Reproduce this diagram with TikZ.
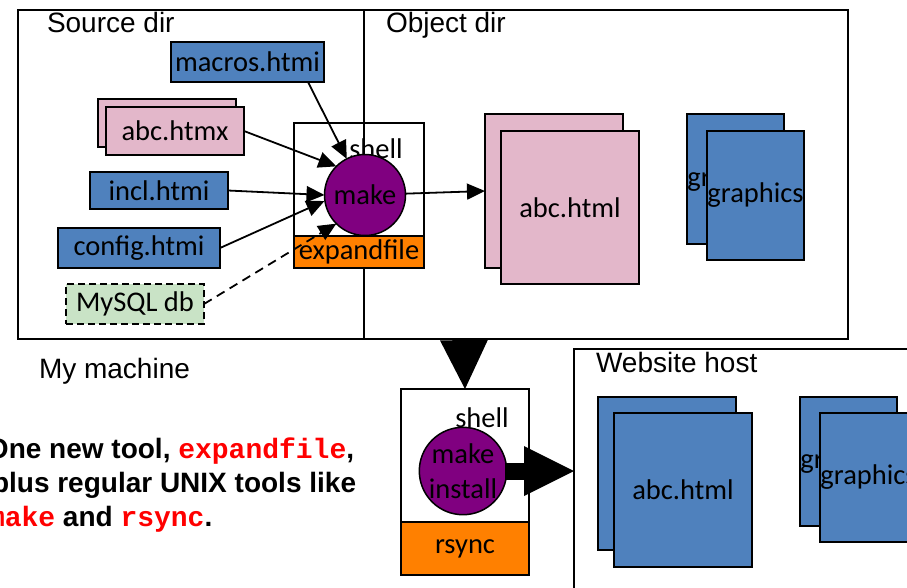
\documentclass[tikz,border=0pt]{standalone}
\usepackage{fontspec}
\setmainfont{Carlito}
\newfontfamily\arialf{Liberation Sans}
\newfontfamily\courf{Liberation Mono}
\usetikzlibrary{arrows.meta}
\definecolor{boxblue}{HTML}{4F81BD}
\definecolor{boxpink}{HTML}{E3B7CA}
\definecolor{boxorange}{HTML}{FF8000}
\definecolor{boxpurple}{HTML}{800080}
\definecolor{boxgreen}{HTML}{C9E3C6}
\begin{document}
\begin{tikzpicture}[x=1pt,y=-1pt,
  every node/.style={font=\fontsize{28.5}{34}\selectfont, inner sep=0pt, outer sep=0pt},
  bluebox/.style={draw=black, line width=2pt, fill=boxblue},
  pinkbox/.style={draw=black, line width=2pt, fill=boxpink},
  shellbox/.style={draw=black, line width=1.5pt},
  orangebox/.style={draw=black, line width=1.5pt, fill=boxorange},
  tool/.style={circle, draw=black, line width=1.5pt, fill=boxpurple},
  lbl/.style={anchor=base west, font=\arialf\fontsize{28}{34}\selectfont},
  notetext/.style={anchor=base west, font=\arialf\bfseries\fontsize{28}{34}\selectfont},
  arr/.style={line width=1.8pt, -{Triangle[length=18pt,width=16pt]}},
]
\useasboundingbox (0,0) rectangle (907,587);

% frames
\node[draw=black, line width=2pt, minimum width=830pt, minimum height=329pt] (mymachine) at (433,174.5) {};
\coordinate (divtop) at (364,10);
\coordinate (divbot) at (364,339);
\draw[line width=2pt] (divtop) -- (divbot);
\node[draw=black, line width=1.5pt, minimum width=356pt, minimum height=261pt] (webhost) at (752,479.5) {};

% labels
\node[lbl] (srclbl) at (47,32) {Source dir};
\node[lbl] (objlbl) at (386,32) {Object dir};
\node[lbl] (mmlbl) at (39,378) {My machine};
\node[lbl] (weblbl) at (596,372) {Website host};

% source files
\node[bluebox, minimum width=153pt, minimum height=40pt] (macros) at (247.5,62) {macros.htmi};
\node[pinkbox, minimum width=138pt, minimum height=48pt] (abcxb) at (167,123) {};
\node[pinkbox, minimum width=138pt, minimum height=48pt] (abcx) at (175,131) {abc.htmx};
\node[bluebox, minimum width=138pt, minimum height=37pt] (incl) at (159,190.5) {incl.htmi};
\node[bluebox, minimum width=162pt, minimum height=40pt] (config) at (139,248) {config.htmi};
\node[draw=black, dash pattern=on 7pt off 4pt, line width=1.5pt, fill=boxgreen, minimum width=138pt, minimum height=40pt] (mysql) at (135,304) {MySQL db};

% shell 1
\node[shellbox, minimum width=130pt, minimum height=145pt] (shell1) at (359,195.5) {};
\node[anchor=base] (shell1lbl) at (376,158) {shell};
\node[tool, minimum size=81pt] (make) at (365,195) {make};
\node[orangebox, minimum width=130pt, minimum height=32pt] (expand) at (359,252) {expandfile};

% object dir files
\node[pinkbox, minimum width=138pt, minimum height=154pt] (objabcb) at (554,191) {};
\node[pinkbox, minimum width=138pt, minimum height=153pt] (objabc) at (570,207.5) {abc.html};
\node[bluebox, minimum width=81pt, minimum height=130pt] (objgrb) at (735.5,179) {graphics};
\node[bluebox, minimum width=89pt, minimum height=129pt] (objgr) at (755.5,195.5) {graphics};

% arrows into make
\draw[arr] ([xshift=-16pt]macros.south east) -- (make);
\draw[arr] (abcx.east) -- (make.north west);
\draw[arr] (incl.east) -- (make.west);
\draw[arr] (config.east) -- ([yshift=-6pt]make.west);
\draw[arr, dash pattern=on 9pt off 6pt] (mysql.east) -- (make.south west);
\draw[arr] (make) -- (objabcb.west);

% shell 2
\node[shellbox, minimum width=128pt, minimum height=186pt] (shell2) at (465,482) {};
\node[anchor=base] (shell2lbl) at (482,427) {shell};
\node[tool, minimum size=84pt, align=center, font=\fontsize{28.5}{35}\selectfont] (make2) at (463,471) {make\\install};
\node[orangebox, minimum width=128pt, minimum height=53pt] (rsync) at (465,548.5) {rsync};

\coordinate (objbot) at (464,339);
\draw[line width=1pt, -{Triangle[length=49pt,width=48pt,line width=0pt]}] (objbot) -- (shell2.north);
\draw[line width=17pt, shorten <=-2pt, -{Triangle[length=50pt,width=50pt,line width=0pt]}] (make2.east) -- (make2.east -| webhost.west);

% website files
\node[bluebox, minimum width=138pt, minimum height=153pt] (webabcb) at (667,473.5) {};
\node[bluebox, minimum width=138pt, minimum height=154pt] (webabc) at (683,490) {abc.html};
\node[bluebox, minimum width=81pt, minimum height=129pt] (webgrb) at (848.5,461.5) {graphics};
\node[bluebox, minimum width=89pt, minimum height=129pt] (webgr) at (868.5,477.5) {graphics};

% note
\node[notetext] (note1) at (-13,458) {One new tool, \textcolor{red}{\courf expandfile},};
\node[notetext] (note2) at (-8,492) {plus regular UNIX tools like};
\node[notetext] (note3) at (-12,526) {\textcolor{red}{\courf make} and \textcolor{red}{\courf rsync}.};
\end{tikzpicture}
\end{document}
